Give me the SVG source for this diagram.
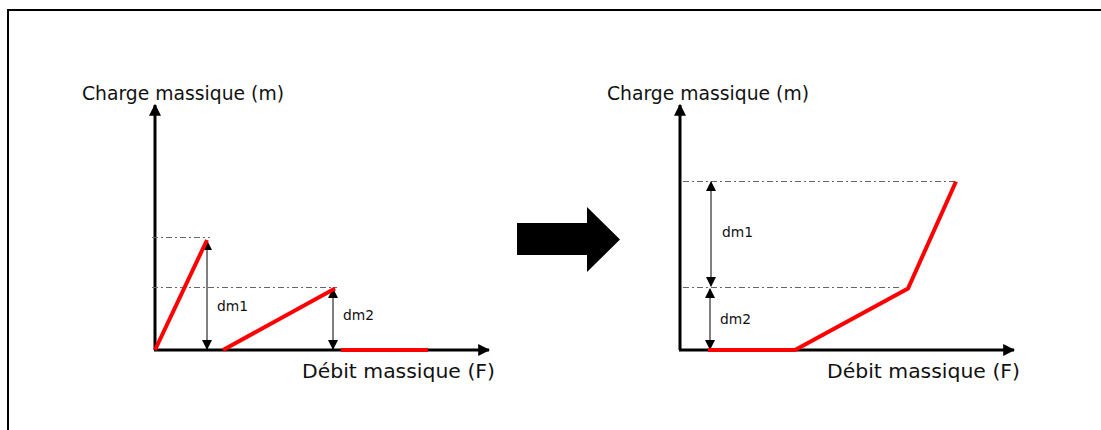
<svg xmlns="http://www.w3.org/2000/svg" width="1101" height="430" viewBox="0 0 1101 430">
<style>
.axis{stroke:#000;stroke-width:3;fill:none}
.dash{stroke:#666;stroke-width:1.2;stroke-dasharray:6 3 2 3;fill:none}
.dim{stroke:#000;stroke-width:1;fill:none}
.red{stroke:#ff0000;stroke-width:4;fill:none;stroke-linejoin:miter}
.lbl{font-family:"DejaVu Sans",Verdana,sans-serif;font-size:20px;fill:#111}
.small{font-family:"DejaVu Sans",Verdana,sans-serif;font-size:14px;fill:#111}
</style>
<defs>
<marker id="axh" viewBox="0 0 10 10" refX="9" refY="5" markerWidth="4" markerHeight="4" orient="auto" markerUnits="strokeWidth"><path d="M0,0 L10,5 L0,10 Z" fill="#000"/></marker>
<marker id="dh" viewBox="0 0 10 10" refX="9" refY="5" markerWidth="10" markerHeight="10" orient="auto-start-reverse" markerUnits="strokeWidth"><path d="M0,0 L10,5 L0,10 Z" fill="#000"/></marker>
</defs>
<rect id="frame" x="8" y="10" width="1110" height="440" fill="none" stroke="#000" stroke-width="2"/>

<g id="left-chart">
<g id="left-axes">
<line class="axis" x1="155" y1="350" x2="155" y2="105" marker-end="url(#axh)"/>
<line class="axis" x1="154" y1="350" x2="489" y2="350" marker-end="url(#axh)"/>
</g>
<g id="left-guides">
<line class="dash" x1="152" y1="237.5" x2="210" y2="237.5"/>
<line class="dash" x1="152" y1="287.5" x2="337" y2="287.5"/>
</g>
<g id="left-dims">
<line class="dim" x1="207" y1="241" x2="207" y2="349" marker-start="url(#dh)" marker-end="url(#dh)"/>
<line class="dim" x1="333" y1="289" x2="333" y2="349" marker-start="url(#dh)" marker-end="url(#dh)"/>
</g>
<g id="left-curves">
<line class="red" x1="155" y1="350" x2="207" y2="240"/>
<line class="red" x1="223" y1="350" x2="335" y2="288.5"/>
<line class="red" x1="341" y1="350" x2="428" y2="350"/>
</g>
<text class="small" x="217" y="311" textLength="31" lengthAdjust="spacingAndGlyphs">dm1</text>
<text class="small" x="343" y="320" textLength="31" lengthAdjust="spacingAndGlyphs">dm2</text>
<text class="lbl" x="82" y="100" textLength="202" lengthAdjust="spacingAndGlyphs">Charge massique (m)</text>
<text class="lbl" x="302" y="378" textLength="193" lengthAdjust="spacingAndGlyphs">Débit massique (F)</text>
</g>

<g id="transition-arrow">
<path d="M517,223 L587,223 L587,207 L620,239.5 L587,272 L587,255 L517,255 Z" fill="#000"/>
</g>

<g id="right-chart">
<g id="right-axes">
<line class="axis" x1="680" y1="350" x2="680" y2="105" marker-end="url(#axh)"/>
<line class="axis" x1="679" y1="350" x2="1014" y2="350" marker-end="url(#axh)"/>
</g>
<g id="right-guides">
<line class="dash" x1="683" y1="181.5" x2="957" y2="181.5"/>
<line class="dash" x1="683" y1="287.5" x2="900" y2="287.5"/>
</g>
<g id="right-dims">
<line class="dim" x1="711" y1="182" x2="711" y2="286" marker-start="url(#dh)" marker-end="url(#dh)"/>
<line class="dim" x1="710" y1="289" x2="710" y2="349" marker-start="url(#dh)" marker-end="url(#dh)"/>
</g>
<polyline class="red" points="708,350 795,350 908,288.5 956,181.5"/>
<text class="small" x="722" y="237" textLength="31" lengthAdjust="spacingAndGlyphs">dm1</text>
<text class="small" x="720" y="324" textLength="31" lengthAdjust="spacingAndGlyphs">dm2</text>
<text class="lbl" x="607" y="100" textLength="202" lengthAdjust="spacingAndGlyphs">Charge massique (m)</text>
<text class="lbl" x="827" y="378" textLength="193" lengthAdjust="spacingAndGlyphs">Débit massique (F)</text>
</g>
</svg>
